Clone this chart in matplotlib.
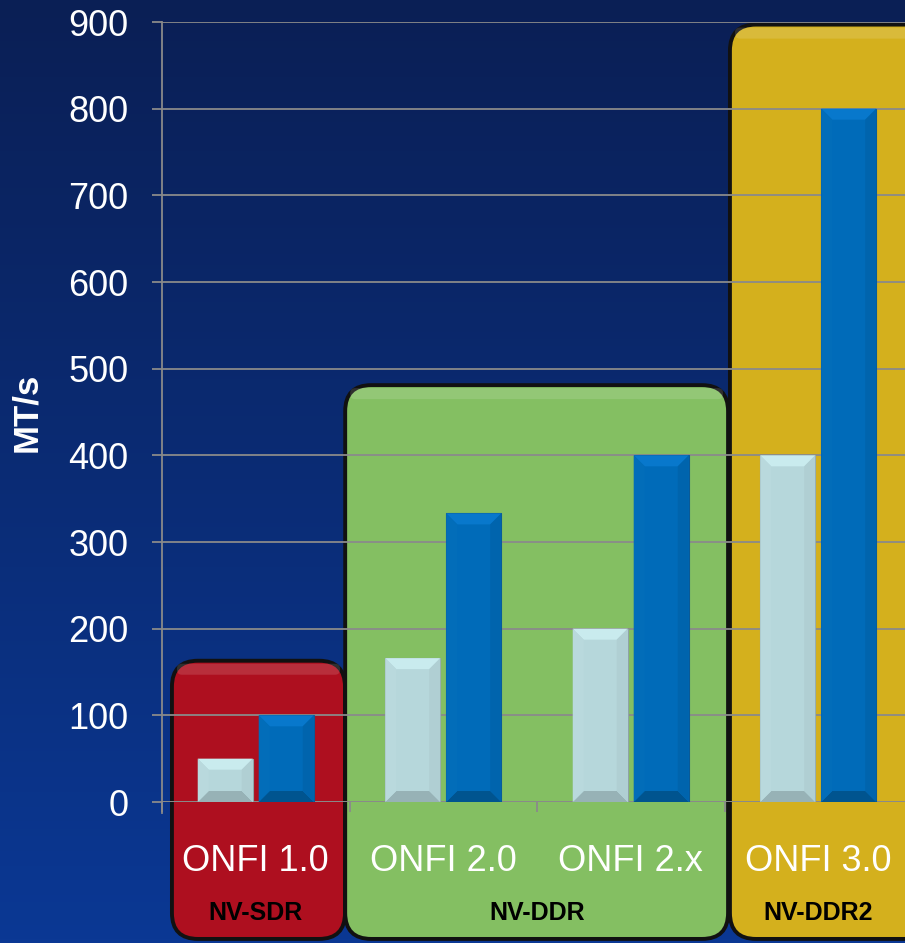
import numpy as np
import matplotlib
matplotlib.use('Agg')
import matplotlib.pyplot as plt
from matplotlib.patches import FancyBboxPatch, Polygon
from matplotlib import transforms

# data
versions = ['ONFI 1.0', 'ONFI 2.0', 'ONFI 2.x', 'ONFI 3.0']
light_vals = [50, 166, 200, 400]
dark_vals = [100, 333, 400, 800]
groups = ['NV-SDR', 'NV-DDR', 'NV-DDR2']
group_first = [0, 1, 3]
group_last = [0, 2, 3]
group_top = [163, 481, 897]
group_colors = ['#ae0f1f', '#84bf62', '#d4b01d']
yticks = list(range(0, 1000, 100))

plt.rcParams['font.family'] = ['Liberation Sans', 'DejaVu Sans']

W, H = 905, 943
fig = plt.figure(figsize=(W / 100, H / 100), dpi=100)

# gradient background
bg = fig.add_axes([0, 0, 1, 1], zorder=-5)
grad = np.linspace(0, 1, 256).reshape(-1, 1)
top = np.array([0x0a, 0x1f, 0x55]) / 255
bot = np.array([0x0b, 0x38, 0x94]) / 255
img = top[None, None, :] * (1 - grad[..., None]) + bot[None, None, :] * grad[..., None]
bg.imshow(img, aspect='auto', extent=[0, 1, 0, 1])
bg.set_axis_off()

ax = fig.add_axes([162 / W, 141 / H, 750 / W, 780 / H])
ax.patch.set_alpha(0)
ax.set_xlim(-0.5, 3.5)
ax.set_ylim(0, 900)

# pixels per data unit
px_x = 750 / 4.0
px_y = 780 / 900.0

# rounded group boxes (edges nudged to where the reference has them)
left_nudge = [0.053, -0.023, 0.029]
right_nudge = [-0.024, 0.019, 0.5]
rad = 26 / px_x
blend = transforms.blended_transform_factory(ax.transData, fig.transFigure)
for i, g in enumerate(groups):
    x0 = group_first[i] - 0.5 + left_nudge[i]
    x1 = group_last[i] + 0.5 + right_nudge[i]
    y0 = -158
    box = FancyBboxPatch((x0, y0), x1 - x0, group_top[i] - y0,
                         boxstyle='round,pad=0,rounding_size=%f' % rad,
                         mutation_aspect=px_x / px_y,
                         facecolor=group_colors[i], edgecolor='#111111',
                         lw=2.8, zorder=0.2, clip_on=False)
    ax.add_patch(box)
    # soft highlight along the top
    hl = FancyBboxPatch((x0 + 5 / px_x, group_top[i] - 14 / px_y),
                        x1 - x0 - 10 / px_x, 11 / px_y,
                        boxstyle='round,pad=0,rounding_size=%f' % (5 / px_x),
                        mutation_aspect=px_x / px_y,
                        facecolor='white', edgecolor='none', alpha=0.13,
                        zorder=0.25, clip_on=False)
    ax.add_patch(hl)
    fig.text((group_first[i] + group_last[i]) / 2, (H - 913) / H, g, transform=blend,
             fontsize=18, fontweight='bold', color='black', ha='center', va='center')

# grid
ax.set_yticks(yticks)
ax.yaxis.grid(True, color='#8a8a8a', lw=1.3)
ax.set_axisbelow(True)

# bars
x = np.arange(len(versions))
bw = 55 / px_x
off = 30.5 / px_x
light = ax.bar(x - off, light_vals, bw, color='#b6d7db', edgecolor='#8fa3a6', lw=0.8, zorder=2)
dark = ax.bar(x + off, dark_vals, bw, color='#006bb9', edgecolor='#0b5a96', lw=0.8, zorder=2)


def bevel(rect, c_top, c_bot, c_left, c_right):
    bx0, by0 = rect.get_x(), rect.get_y()
    bx1, by1 = bx0 + rect.get_width(), by0 + rect.get_height()
    dx = min(11 / px_x, rect.get_width() / 2)
    dy = min(11 / px_y, rect.get_height() / 2)
    ix0, ix1, iy0, iy1 = bx0 + dx, bx1 - dx, by0 + dy, by1 - dy
    for pts, c in [([(bx0, by1), (bx1, by1), (ix1, iy1), (ix0, iy1)], c_top),
                   ([(bx0, by0), (bx1, by0), (ix1, iy0), (ix0, iy0)], c_bot),
                   ([(bx0, by0), (ix0, iy0), (ix0, iy1), (bx0, by1)], c_left),
                   ([(bx1, by0), (ix1, iy0), (ix1, iy1), (bx1, by1)], c_right)]:
        ax.add_patch(Polygon(pts, closed=True, facecolor=c, edgecolor='none', zorder=2.1))


for r in light:
    bevel(r, '#c9ebee', '#97b2b6', '#b9d9dd', '#b0cfd3')
for r in dark:
    bevel(r, '#0878cc', '#00548f', '#026db9', '#0064ad')

# axes styling
for s in ['top', 'right', 'bottom']:
    ax.spines[s].set_visible(False)
ax.spines['left'].set_color('#8a8a8a')
ax.spines['left'].set_linewidth(1.3)
ax.spines['left'].set_bounds(-13, 900)
ax.axhline(0, color='#8a8a8a', lw=1.3, zorder=0.6)
ax.tick_params(axis='y', colors='#8a8a8a', length=7.2, width=1.3, pad=17,
               labelcolor='white', labelsize=26)
ax.set_xticks(x)
ax.set_xticklabels(versions)
ax.set_xticks(np.arange(-0.5, 4, 1), minor=True)
ax.tick_params(axis='x', which='major', length=0, pad=30, labelcolor='white', labelsize=26)
ax.tick_params(axis='x', which='minor', length=7.2, width=1.3, colors='#8a8a8a')

fig.text(27 / W, (H - 412) / H, 'MT/s', rotation=90, fontsize=25, fontweight='bold',
         color='white', ha='center', va='center')

fig.savefig('out.png', dpi=100)
